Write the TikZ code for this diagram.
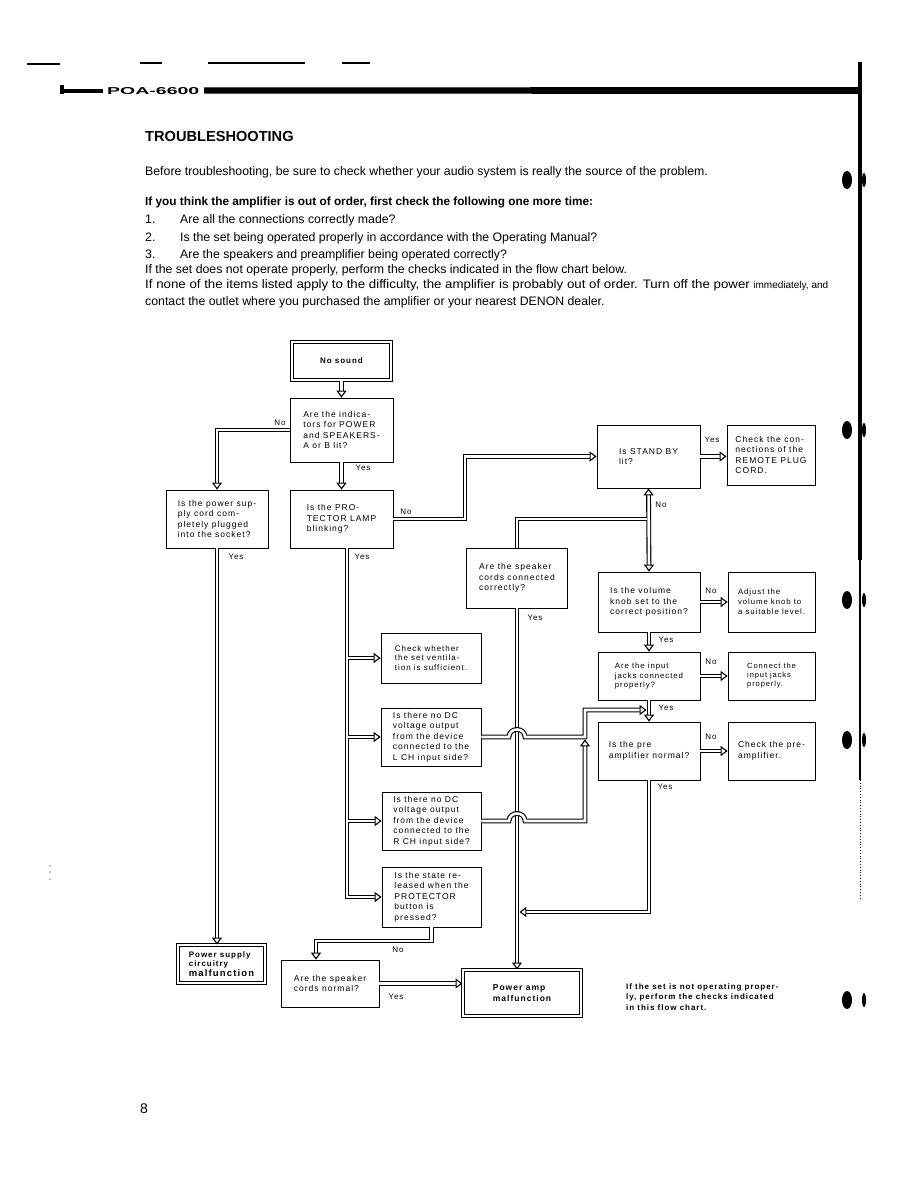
\documentclass[tikz,border=0pt]{standalone}
\usepackage{fontspec}
\setmainfont{Liberation Sans}
\newfontfamily\fcf[LetterSpace=12]{Liberation Sans}
\usetikzlibrary{arrows.meta}
\begin{document}
\begin{tikzpicture}[x=1pt,y=-1pt,
 box/.style={draw=black, line width=0.75pt, align=left, font=\fcf\fontsize{8.5}{10.5}\selectfont, inner sep=2pt},
 dbox/.style={box, line width=1pt, double=white, double distance=2.4pt},
 dl/.style={draw=black, line width=1.1pt, double=white, double distance=2.6pt},
 ar/.style={dl, -{Triangle[open, length=7pt, width=10pt]}},
 lbl/.style={font=\fcf\fontsize{8}{9}\selectfont, inner sep=0pt},
 body/.style={anchor=base west, inner sep=0pt, font=\fontsize{12.3}{14}\selectfont},
]
\useasboundingbox (0,0) rectangle (918,1188);
\fill[white] (0,0) rectangle (918,1188);

% ---- header ----
\draw[line width=1.2pt] (27,64) -- (60,64) (140,63) -- (162,63) (208,63) -- (305,63) (342,63) -- (370,63);
\draw[line width=4pt] (62,91) -- (103,91);
\fill (60,85) rectangle (64,94);
\node[anchor=west, inner sep=0pt, font=\bfseries\fontsize{10}{12}\selectfont] (model) at (107,91) {\scalebox{1.95}[1]{POA-6600}};
\fill (204,87.5) -- (858,87) -- (858,94) -- (204,93.5) -- cycle;
\draw[line width=3.5pt] (860,62) -- (860,560);
\draw[line width=2pt] (860,560) -- (860,780);
\draw[line width=0.8pt, dotted] (860,780) -- (860,900);
\foreach \yy in {180,430,600,740,1000}{
  \fill (847,\yy) ellipse [x radius=5pt, y radius=9pt];
  \fill (864,\yy) ellipse [x radius=2pt, y radius=7pt];
}
\fill (50,866) circle (0.7pt) (50,872) circle (0.7pt) (50,879) circle (0.7pt);

% ---- text ----
\node[body, font=\bfseries\fontsize{14.6}{16}\selectfont] (title) at (145,142) {TROUBLESHOOTING};
\node[body] (l1) at (145,175) {Before troubleshooting, be sure to check whether your audio system is really the source of the problem.};
\node[body, font=\bfseries\fontsize{11.8}{13}\selectfont] (l2) at (145,205) {If you think the amplifier is out of order, first check the following one more time:};
\node[body] (n1) at (145,223) {1.};
\node[body] (t1) at (180,223) {Are all the connections correctly made?};
\node[body] (n2) at (145,241) {2.};
\node[body] (t2) at (180,241) {Is the set being operated properly in accordance with the Operating Manual?};
\node[body] (n3) at (145,258) {3.};
\node[body] (t3) at (180,258) {Are the speakers and preamplifier being operated correctly?};
\node[body] (l4) at (145,273) {If the set does not operate properly, perform the checks indicated in the flow chart below.};
\node[body] (l5) at (145,288) {\scalebox{1.08}[1]{If none of the items listed apply to the difficulty, the amplifier is probably out of order. Turn off the power} {\fontsize{10}{12}\selectfont immediately, and}};
\node[body] (l6) at (145,305) {contact the outlet where you purchased the amplifier or your nearest DENON dealer.};
\node[body, font=\fontsize{14}{16}\selectfont] (page) at (140,1113) {8};

% ---- boxes ----
\node[dbox, minimum width=99pt, minimum height=38pt, font=\fcf\bfseries\fontsize{8}{10}\selectfont] (nosound) at (341.5,361) {No sound};
\node[box, minimum width=103pt, minimum height=64pt] (ind) at (341.5,430) {Are the indica-\\tors for POWER\\and SPEAKERS-\\A or B lit?};
\node[box, minimum width=102pt, minimum height=58pt] (psu) at (217,519) {Is the power sup-\\ply cord com-\\pletely plugged\\into the socket?};
\node[box, minimum width=103pt, minimum height=58pt] (lamp) at (341.5,519) {Is the PRO-\\TECTOR LAMP\\blinking?};
\node[box, minimum width=103pt, minimum height=63pt] (standby) at (648.5,456.5) {Is STAND BY\\lit?};
\node[box, minimum width=88pt, minimum height=60pt] (remote) at (771,455) {Check the con-\\nections of the\\REMOTE PLUG\\CORD.};
\node[box, minimum width=101pt, minimum height=60pt] (spk) at (517,578) {Are the speaker\\cords connected\\correctly?};
\node[box, minimum width=102pt, minimum height=60pt] (vol) at (649,602) {Is the volume\\knob set to the\\correct position?};
\node[box, minimum width=87pt, minimum height=60pt, font=\fcf\fontsize{7.8}{10}\selectfont] (adjust) at (771.5,602) {Adjust the\\volume knob to\\a suitable level.};
\node[box, minimum width=102pt, minimum height=48pt, font=\fcf\fontsize{7.8}{9.5}\selectfont] (jacks) at (649,676) {Are the input\\jacks connected\\properly?};
\node[box, minimum width=87pt, minimum height=48pt, font=\fcf\fontsize{7.5}{9}\selectfont] (connect) at (771.5,676) {Connect the\\input jacks\\properly.};
\node[box, minimum width=102pt, minimum height=58pt] (pre) at (649,751) {Is the pre\\amplifier normal?};
\node[box, minimum width=87pt, minimum height=58pt] (chkpre) at (771.5,751) {Check the pre-\\amplifier.};
\node[box, minimum width=100pt, minimum height=50pt, font=\fcf\fontsize{8}{9.5}\selectfont] (vent) at (431,658) {Check whether\\the set ventila-\\tion is sufficient.};
\node[box, minimum width=100pt, minimum height=58pt] (lch) at (431,737) {Is there no DC\\voltage output\\from the device\\connected to the\\L CH input side?};
\node[box, minimum width=99pt, minimum height=58pt] (rch) at (431.5,821) {Is there no DC\\voltage output\\from the device\\connected to the\\R CH input side?};
\node[box, minimum width=99pt, minimum height=60pt] (prot) at (431.5,897) {Is the state re-\\leased when the\\PROTECTOR\\button is\\pressed?};
\node[dbox, minimum width=87pt, minimum height=38pt, font=\fcf\bfseries\fontsize{8}{9.5}\selectfont] (psmal) at (221.5,964) {Power supply\\circuitry\\{\fontsize{9.5}{10}\selectfont malfunction}};
\node[box, minimum width=98pt, minimum height=47pt] (spknorm) at (330,983.5) {Are the speaker\\cords normal?};
\node[dbox, minimum width=118pt, minimum height=46pt, font=\fcf\bfseries\fontsize{8.5}{11}\selectfont] (pamp) at (522,993) {Power amp\\malfunction};
\node[anchor=north west, inner sep=0pt, align=left, font=\fcf\bfseries\fontsize{8}{10.5}\selectfont] (note) at (626,983) {If the set is not operating proper-\\ly, perform the checks indicated\\in this flow chart.};

% ---- labels ----
\node[lbl] (y1) at (280,423) {No};
\node[lbl] (y2) at (363,468) {Yes};
\node[lbl] (y3) at (236,557) {Yes};
\node[lbl] (y4) at (406,512) {No};
\node[lbl] (y5) at (362,557) {Yes};
\node[lbl] (y6) at (712,440) {Yes};
\node[lbl] (y7) at (661,505) {No};
\node[lbl] (y8) at (535,618) {Yes};
\node[lbl] (y9) at (711,591) {No};
\node[lbl] (y10) at (666,640) {Yes};
\node[lbl] (y11) at (711,662) {No};
\node[lbl] (y12) at (666,708) {Yes};
\node[lbl] (y13) at (711,737) {No};
\node[lbl] (y14) at (665,787) {Yes};
\node[lbl] (y15) at (398,950) {No};
\node[lbl] (y16) at (396,997) {Yes};

% ---- connectors ----
\coordinate (k1) at (465,519);
\coordinate (k2) at (316,941);
\coordinate (t0) at (347,548);
\coordinate (tb) at (347,897);
\coordinate (sj) at (517,519);
\coordinate (sjE) at (647.2,519);

\draw[ar] (nosound.south) -- (ind.north);
\draw[ar] (ind.west) -| (psu.north);
\draw[ar] (ind.south) -- (lamp.north);
\draw[ar] (psu.south) -- (psu.south |- psmal.north);
\draw[ar] (lamp.east) -- (k1) |- (standby.west);
\draw[ar] (standby.east) -- (standby.east -| remote.west);
\draw[dl, {Triangle[open, length=7pt, width=10pt]}-{Triangle[open, length=7pt, width=10pt]}] (standby.south) -- (vol.north);
\draw[dl] (spk.north) -- (sj) -- (sjE);
\draw[ar] (vol.east) -- (vol.east -| adjust.west);
\draw[ar] (vol.south) -- (jacks.north);
\draw[ar] (jacks.east) -- (jacks.east -| connect.west);
\draw[ar] (jacks.south) -- (pre.north);
\draw[ar] (pre.east) -- (pre.east -| chkpre.west);
\draw[ar] (spk.south) -- (spk.south |- pamp.north);
\draw[ar] (pre.south) -- (pre.south |- 0,912) -- (519.4,912);

% left tree
\draw[ar] (t0) |- (vent.west);
\draw[ar] (t0) |- (lch.west);
\draw[ar] (t0) |- (rch.west);
\draw[ar] (t0) |- (prot.west);
\draw[dl] (t0) -- (tb) -- ([xshift=-12pt]prot.west)
  (347,658) -- ([xshift=-12pt]vent.west)
  (347,737) -- ([xshift=-12pt]lch.west)
  (347,821) -- ([xshift=-12pt]rch.west);

% crossings with hops
\draw[ar] (lch.east) -- (509,737) .. controls (509,727) and (525,727) .. (525,737) -- (585,737) -- (585,710) -- (646.6,710);
\draw[ar] (rch.east) -- (509,821) .. controls (509,811) and (525,811) .. (525,821) -- (585,821) -- (585,739.4);

\draw[ar] (prot.south) |- (k2) -- (k2 |- spknorm.north);
\draw[ar] (spknorm.east) -- (spknorm.east -| pamp.west);
\end{tikzpicture}
\end{document}
